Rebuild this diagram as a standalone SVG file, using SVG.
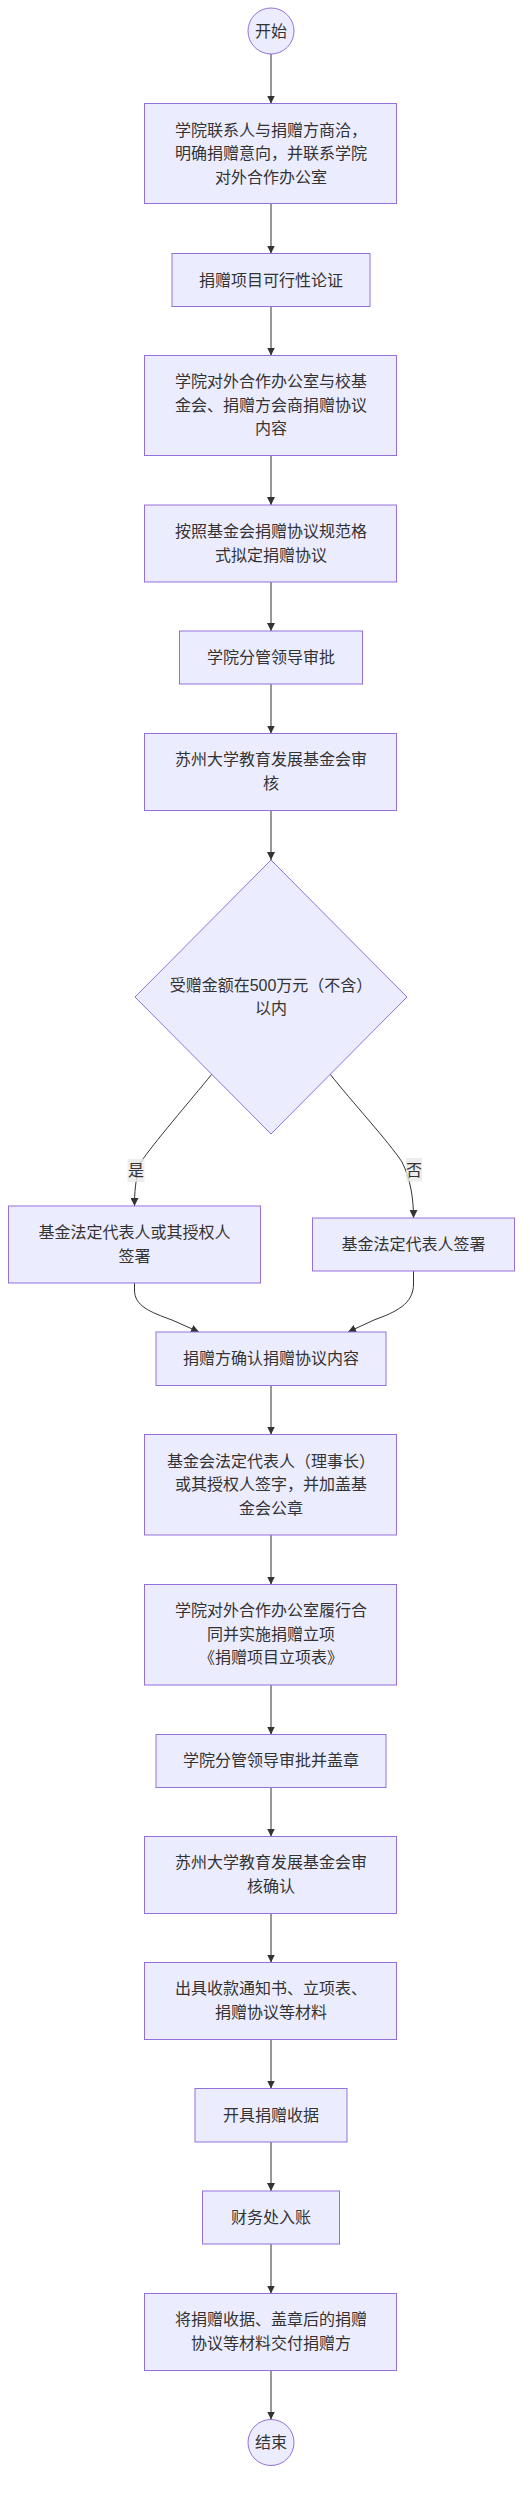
<svg xmlns="http://www.w3.org/2000/svg" width="530" height="2512" viewBox="0 0 530 2512">
<style>
.n rect,.n circle,.n polygon{fill:#ECECFF;stroke:#9370DB;stroke-width:1}
.n text{font-family:"Liberation Sans","Noto Sans CJK SC",sans-serif;font-size:16px;fill:#333;text-anchor:middle;dominant-baseline:central}
.e path,.e line{fill:none;stroke:#333;stroke-width:1}
.lb rect{fill:#E8E8E8;fill-opacity:0.8}
.lb text{font-family:"Liberation Sans","Noto Sans CJK SC",sans-serif;font-size:16px;fill:#333;text-anchor:middle;dominant-baseline:central}
</style>
<defs>
<marker id="ah" viewBox="0 0 10 10" refX="10" refY="5" markerWidth="8" markerHeight="8" markerUnits="userSpaceOnUse" orient="auto">
<path d="M0,0 L10,5 L0,10 z" fill="#333"/>
</marker>
</defs>
<rect width="530" height="2512" fill="#fff"/>
<g id="edges" class="e">
<line x1="271" y1="54" x2="271" y2="103.5" marker-end="url(#ah)"/>
<line x1="271" y1="203.5" x2="271" y2="253.5" marker-end="url(#ah)"/>
<line x1="271" y1="306.5" x2="271" y2="355.5" marker-end="url(#ah)"/>
<line x1="271" y1="455.5" x2="271" y2="505" marker-end="url(#ah)"/>
<line x1="271" y1="582" x2="271" y2="631" marker-end="url(#ah)"/>
<line x1="271" y1="684" x2="271" y2="733.5" marker-end="url(#ah)"/>
<line x1="271" y1="810.5" x2="271" y2="860" marker-end="url(#ah)"/>
<path d="M212,1074 C190,1101 152,1145 141,1162 C135,1178 134.5,1195 134.5,1206" marker-end="url(#ah)"/>
<path d="M330,1074 C352,1102 389,1142 402,1162 C411,1180 413.5,1200 413.5,1218" marker-end="url(#ah)"/>
<path d="M134.5,1283 L134.5,1290 C134.5,1306 150,1312 172,1320 L199,1332" marker-end="url(#ah)"/>
<path d="M413.5,1271 L413.5,1284 C413.5,1304 396,1312 374,1320 L348,1332" marker-end="url(#ah)"/>
<line x1="271" y1="1385.5" x2="271" y2="1434.5" marker-end="url(#ah)"/>
<line x1="271" y1="1535" x2="271" y2="1584.5" marker-end="url(#ah)"/>
<line x1="271" y1="1685" x2="271" y2="1734.5" marker-end="url(#ah)"/>
<line x1="271" y1="1787.5" x2="271" y2="1836.5" marker-end="url(#ah)"/>
<line x1="271" y1="1913.5" x2="271" y2="1962.5" marker-end="url(#ah)"/>
<line x1="271" y1="2039.5" x2="271" y2="2088.5" marker-end="url(#ah)"/>
<line x1="271" y1="2142" x2="271" y2="2191" marker-end="url(#ah)"/>
<line x1="271" y1="2244" x2="271" y2="2293.5" marker-end="url(#ah)"/>
<line x1="271" y1="2370.5" x2="271" y2="2419.5" marker-end="url(#ah)"/>
</g>
<g id="labels" class="lb">
<g id="label-yes"><rect x="127.5" y="1159" width="17" height="23"/><text x="136" y="1170.5">是</text></g>
<g id="label-no"><rect x="406" y="1158" width="16" height="23.5"/><text x="414" y="1170">否</text></g>
</g>
<g id="start" class="n"><circle cx="271" cy="31" r="23"/><text x="271" y="31">开始</text></g>
<g id="n1" class="n"><rect x="144.5" y="103.5" width="252" height="100"/>
<text x="271" y="130">学院联系人与捐赠方商洽，</text><text x="271" y="153.5">明确捐赠意向，并联系学院</text><text x="271" y="177">对外合作办公室</text></g>
<g id="n2" class="n"><rect x="172" y="253.5" width="198" height="53"/><text x="271" y="280">捐赠项目可行性论证</text></g>
<g id="n3" class="n"><rect x="144.5" y="355.5" width="252" height="100"/>
<text x="271" y="381.5">学院对外合作办公室与校基</text><text x="271" y="405">金会、捐赠方会商捐赠协议</text><text x="271" y="428.5">内容</text></g>
<g id="n4" class="n"><rect x="144.5" y="505" width="252" height="77"/>
<text x="271" y="531.5">按照基金会捐赠协议规范格</text><text x="271" y="555">式拟定捐赠协议</text></g>
<g id="n5" class="n"><rect x="179.5" y="631" width="183" height="53"/><text x="271" y="657.5">学院分管领导审批</text></g>
<g id="n6" class="n"><rect x="144.5" y="733.5" width="252" height="77"/>
<text x="271" y="759.5">苏州大学教育发展基金会审</text><text x="271" y="783">核</text></g>
<g id="decision" class="n"><polygon points="271,860 407,997 271,1134 135,997"/>
<text x="271" y="985">受赠金额在500万元（不含）</text><text x="271" y="1008">以内</text></g>
<g id="n-yes" class="n"><rect x="8.5" y="1206" width="252" height="77"/>
<text x="134.5" y="1232.5">基金法定代表人或其授权人</text><text x="134.5" y="1256">签署</text></g>
<g id="n-no" class="n"><rect x="312.5" y="1218" width="202" height="53"/><text x="413.5" y="1244.5">基金法定代表人签署</text></g>
<g id="n7" class="n"><rect x="156" y="1332" width="230" height="53.5"/><text x="271" y="1358.5">捐赠方确认捐赠协议内容</text></g>
<g id="n8" class="n"><rect x="144.5" y="1434.5" width="252" height="100.5"/>
<text x="271" y="1461.5">基金会法定代表人（理事长）</text><text x="271" y="1484.5">或其授权人签字，并加盖基</text><text x="271" y="1508">金会公章</text></g>
<g id="n9" class="n"><rect x="144.5" y="1584.5" width="252" height="100.5"/>
<text x="271" y="1610.5">学院对外合作办公室履行合</text><text x="271" y="1634">同并实施捐赠立项</text><text x="271" y="1657.5">《捐赠项目立项表》</text></g>
<g id="n10" class="n"><rect x="156" y="1734.5" width="230" height="53"/><text x="271" y="1760.5">学院分管领导审批并盖章</text></g>
<g id="n11" class="n"><rect x="144.5" y="1836.5" width="252" height="77"/>
<text x="271" y="1862.5">苏州大学教育发展基金会审</text><text x="271" y="1886">核确认</text></g>
<g id="n12" class="n"><rect x="144.5" y="1962.5" width="252" height="77"/>
<text x="271" y="1988.5">出具收款通知书、立项表、</text><text x="271" y="2012">捐赠协议等材料</text></g>
<g id="n13" class="n"><rect x="195" y="2088.5" width="152" height="53.5"/><text x="271" y="2115">开具捐赠收据</text></g>
<g id="n14" class="n"><rect x="202.5" y="2191" width="137" height="53"/><text x="271" y="2217.5">财务处入账</text></g>
<g id="n15" class="n"><rect x="144.5" y="2293.5" width="252" height="77"/>
<text x="271" y="2319.5">将捐赠收据、盖章后的捐赠</text><text x="271" y="2343">协议等材料交付捐赠方</text></g>
<g id="end" class="n"><circle cx="271" cy="2442.5" r="23"/><text x="271" y="2442.5">结束</text></g>
</svg>
